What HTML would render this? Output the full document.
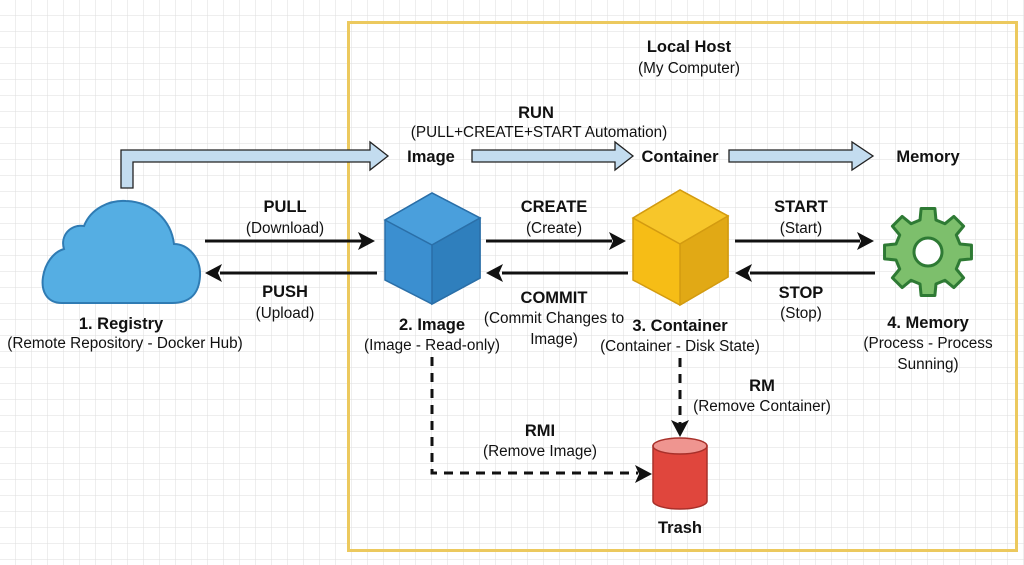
<!DOCTYPE html>
<html><head><meta charset="utf-8"><style>
html,body{margin:0;padding:0;background:#fff}
svg{display:block}
text{font-family:"Liberation Sans",sans-serif;fill:#111}
.b{font-weight:bold;font-size:16.5px}
.n{font-size:15.3px}
</style></head><body>
<svg width="1024" height="565" viewBox="0 0 1024 565" xmlns="http://www.w3.org/2000/svg">
<defs>
<pattern id="g" width="16" height="16" patternUnits="userSpaceOnUse">
<path d="M16 0V16M0 16H16" fill="none" stroke="#dedede" stroke-width="1"/>
</pattern>
</defs>
<rect width="1024" height="565" fill="url(#g)"/>
<rect x="348.5" y="22.5" width="668" height="528" fill="none" stroke="#ecc95e" stroke-width="3"/>

<text class="b" x="689" y="52" text-anchor="middle">Local Host</text>
<text class="n" x="689" y="73" text-anchor="middle">(My Computer)</text>
<text class="b" x="536" y="118" text-anchor="middle">RUN</text>
<text class="n" x="539" y="137" text-anchor="middle">(PULL+CREATE+START Automation)</text>

<path d="M121 188V150H370V142L388 156L370 170V162H133V188Z" fill="#c3dcef" stroke="#222" stroke-width="1.3"/>
<path d="M472 150H615V142L633 156L615 170V162H472Z" fill="#c3dcef" stroke="#222" stroke-width="1.3"/>
<path d="M729 150H852V142L873 156L852 170V162H729Z" fill="#c3dcef" stroke="#222" stroke-width="1.3"/>
<text class="b" x="431" y="162" text-anchor="middle">Image</text>
<text class="b" x="680" y="162" text-anchor="middle">Container</text>
<text class="b" x="928" y="162" text-anchor="middle">Memory</text>

<!-- cloud -->
<path d="M62 303C46 303 41 290 43 277C45 264 53 252 64 249C60 236 70 224 84 226C91 208 110 200 126 201C152 202 171 220 174 244C188 244 201 258 200 276C199 294 190 303 172 303Z" fill="#55aee3" stroke="#2f7bb3" stroke-width="2"/>

<path d="M385 220L432 193L480 218L480 278L432 304L385 280Z" fill="#3b8fd0" stroke="#2a6fa8" stroke-width="1.5"/>
<path d="M385 220L432 193L480 218L432 245Z" fill="#4a9fdc" stroke="#2a6fa8" stroke-width="1.5"/>
<path d="M432 245L480 218L480 278L432 304Z" fill="#2f7fbd" stroke="#2a6fa8" stroke-width="1.5"/>

<path d="M633 218L680 190L728 216L728 277L680 305L633 280Z" fill="#f6bd16" stroke="#d39b10" stroke-width="1.5"/>
<path d="M633 218L680 190L728 216L680 244Z" fill="#f7c62a" stroke="#d39b10" stroke-width="1.5"/>
<path d="M680 244L728 216L728 277L680 305Z" fill="#e1a915" stroke="#d39b10" stroke-width="1.5"/>

<g transform="translate(928,252)">
<polygon points="32.02,-7.98 43.46,-6.88 43.46,6.88 32.02,7.98 28.29,17 35.6,25.86 25.86,35.6 17,28.29 7.98,32.02 6.88,43.46 -6.88,43.46 -7.98,32.02 -17,28.29 -25.86,35.6 -35.6,25.86 -28.29,17 -32.02,7.98 -43.46,6.88 -43.46,-6.88 -32.02,-7.98 -28.29,-17 -35.6,-25.86 -25.86,-35.6 -17,-28.29 -7.98,-32.02 -6.88,-43.46 6.88,-43.46 7.98,-32.02 17,-28.29 25.86,-35.6 35.6,-25.86 28.29,-17" fill="#7dbf6c" stroke="#2e7a34" stroke-width="3" stroke-linejoin="round"/>
<circle r="14" fill="#fff" stroke="#2e7a34" stroke-width="3"/>
</g>

<path d="M653 446V501A27 8 0 0 0 707 501V446Z" fill="#e0463d" stroke="#a8302a" stroke-width="1.5"/>
<ellipse cx="680" cy="446" rx="27" ry="8" fill="#ef9590" stroke="#a8302a" stroke-width="1.5"/>

<g stroke="#111" stroke-width="3" fill="none">
<line x1="205" y1="241" x2="362" y2="241"/>
<line x1="220" y1="273" x2="377" y2="273"/>
<line x1="486" y1="241" x2="612" y2="241"/>
<line x1="502" y1="273" x2="628" y2="273"/>
<line x1="735" y1="241" x2="860" y2="241"/>
<line x1="750" y1="273" x2="875" y2="273"/>
<path d="M432 357V473H638" stroke-dasharray="9,7"/>
<path d="M680 358V424" stroke-dasharray="9,7"/>
</g>
<g fill="#111">
<path d="M375 241L358 232L362 241L358 250Z"/>
<path d="M205 273L222 264L218 273L222 282Z"/>
<path d="M626 241L609 232L613 241L609 250Z"/>
<path d="M486 273L503 264L499 273L503 282Z"/>
<path d="M874 241L857 232L861 241L857 250Z"/>
<path d="M735 273L752 264L748 273L752 282Z"/>
<path d="M652 474L635 465L639 474L635 483Z"/>
<path d="M680 437L671 420L680 424L689 420Z"/>
</g>

<text class="b" x="285" y="212" text-anchor="middle">PULL</text>
<text class="n" x="285" y="233" text-anchor="middle">(Download)</text>
<text class="b" x="285" y="297" text-anchor="middle">PUSH</text>
<text class="n" x="285" y="318" text-anchor="middle">(Upload)</text>
<text class="b" x="121" y="329" text-anchor="middle">1. Registry</text>
<text class="n" x="125" y="348" text-anchor="middle">(Remote Repository - Docker Hub)</text>

<text class="b" x="554" y="212" text-anchor="middle">CREATE</text>
<text class="n" x="554" y="233" text-anchor="middle">(Create)</text>
<text class="b" x="554" y="303" text-anchor="middle">COMMIT</text>
<text class="n" x="554" y="323" text-anchor="middle">(Commit Changes to</text>
<text class="n" x="554" y="344" text-anchor="middle">Image)</text>
<text class="b" x="432" y="330" text-anchor="middle">2. Image</text>
<text class="n" x="432" y="350" text-anchor="middle">(Image - Read-only)</text>

<text class="b" x="680" y="331" text-anchor="middle">3. Container</text>
<text class="n" x="680" y="351" text-anchor="middle">(Container - Disk State)</text>

<text class="b" x="801" y="212" text-anchor="middle">START</text>
<text class="n" x="801" y="233" text-anchor="middle">(Start)</text>
<text class="b" x="801" y="298" text-anchor="middle">STOP</text>
<text class="n" x="801" y="318" text-anchor="middle">(Stop)</text>
<text class="b" x="928" y="328" text-anchor="middle">4. Memory</text>
<text class="n" x="928" y="348" text-anchor="middle">(Process - Process</text>
<text class="n" x="928" y="369" text-anchor="middle">Sunning)</text>

<text class="b" x="762" y="391" text-anchor="middle">RM</text>
<text class="n" x="762" y="411" text-anchor="middle">(Remove Container)</text>
<text class="b" x="540" y="436" text-anchor="middle">RMI</text>
<text class="n" x="540" y="456" text-anchor="middle">(Remove Image)</text>
<text class="b" x="680" y="533" text-anchor="middle">Trash</text>
</svg>
</body></html>
